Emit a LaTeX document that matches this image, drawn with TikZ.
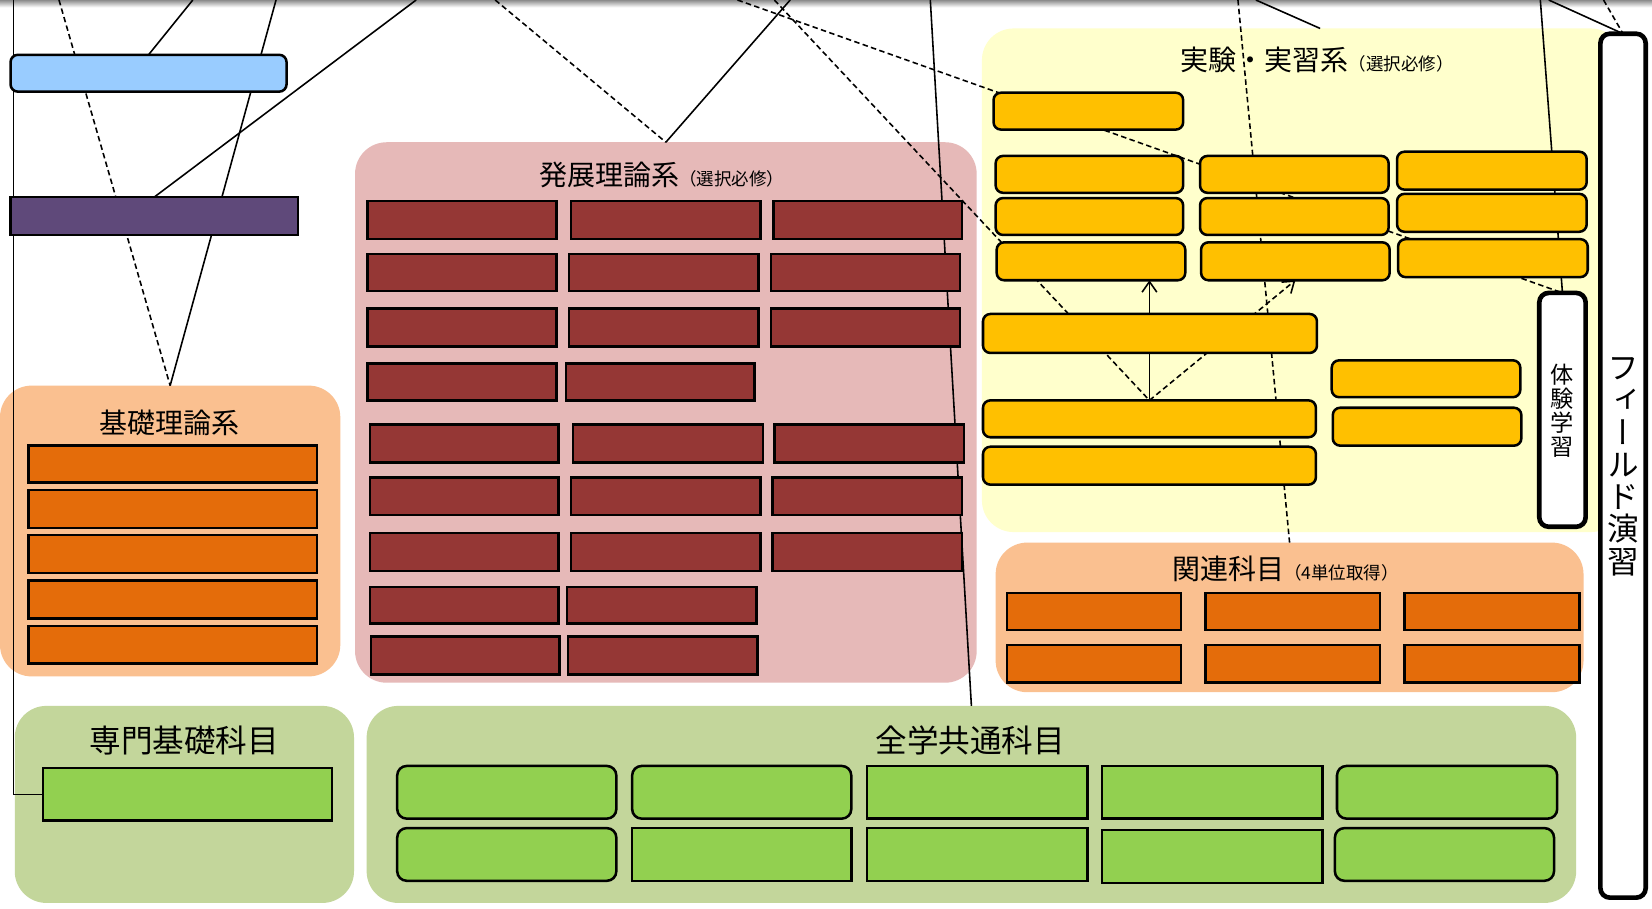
\documentclass[tikz,border=0pt]{standalone}
\usepackage{fontspec}
\setmainfont{Noto Sans CJK JP}
\newfontfamily\vjp[RawFeature=+vert]{Noto Sans CJK JP}
\usetikzlibrary{calc,arrows.meta}
\pgfdeclarelayer{bg}
\pgfdeclarelayer{ln}
\pgfsetlayers{bg,ln,main}
\definecolor{cblue}{HTML}{99CCFF}
\definecolor{cpurp}{HTML}{5F497A}
\definecolor{corgp}{HTML}{FAC090}
\definecolor{corgb}{HTML}{E46C0A}
\definecolor{cpink}{HTML}{E6B9B8}
\definecolor{cred}{HTML}{953735}
\definecolor{cyelp}{HTML}{FFFFCC}
\definecolor{cyelb}{HTML}{FFC000}
\definecolor{cgrnp}{HTML}{C3D69B}
\definecolor{cgrnb}{HTML}{92D050}
\newcommand\bx[6]{\node[#2,minimum width={(#5-(#3))*0.5pt},minimum height={(#6-(#4))*0.5pt}] (#1) at ({(#3+#5)/2},{(#4+#6)/2}) {};}
\tikzset{
  panel/.style={fill=#1,draw=none,rounded corners=15pt,inner sep=0pt,outer sep=0pt},
  sbox/.style={draw=black,line width=1.2pt,fill=#1,inner sep=0pt,outer sep=0pt},
  rbox/.style={sbox=#1,rounded corners=3.5pt},
  wbox/.style={draw=black,line width=2.2pt,fill=white,rounded corners=4.5pt,inner sep=0pt,outer sep=0pt},
  con/.style={draw=black,line width=0.75pt},
  dcon/.style={con,dash pattern=on 2.6pt off 1.6pt},
  tip/.style={-{Straight Barb[length=5pt,width=7pt,line width=0.75pt]}},
  ttl/.style={inner sep=0pt,font=\fontsize{13.3}{15}\selectfont},
}
\newcommand\sm[1]{{\fontsize{8.3}{9}\selectfont #1}}
\begin{document}
\begin{tikzpicture}[x=0.5pt,y=-0.5pt]
\useasboundingbox (0,0) rectangle (1568,862);
\begin{pgfonlayer}{bg}
\fill[white] (0,0) rectangle (1568,862);
\shade[top color=black!45,bottom color=white] (0,0) rectangle (1568,7);
\bx{kiso}{panel=corgp}{0}{366}{323}{642}
\bx{hatten}{panel=cpink}{337}{135}{927}{648}
\bx{jikken}{panel=cyelp}{932}{27}{1540}{505}
\bx{kanren}{panel=corgp}{945}{515}{1503}{657}
\bx{senmon}{panel=cgrnp}{14}{670}{336}{857}
\bx{zengaku}{panel=cgrnp}{348}{670}{1496}{857}
\end{pgfonlayer}
% titles
\node[ttl] (tkiso) at (161,401) {基礎理論系};
\node[ttl,anchor=base] (thatten) at (628,176) {発展理論系\sm{（選択必修）}};
\node[ttl,anchor=base] (tjikken) at (1250,67) {実験・実習系\sm{（選択必修）}};
\node[ttl,anchor=base] (tkanren) at (1220,550) {関連科目\sm{（4単位取得）}};
\node[ttl,font=\fontsize{15}{17}\selectfont] (tsenmon) at (175,703) {専門基礎科目};
\node[ttl,font=\fontsize{15}{17}\selectfont] (tzengaku) at (921,703) {全学共通科目};
% left boxes
\bx{blue}{rbox=cblue}{10}{52}{272}{87}
\bx{purple}{sbox=cpurp}{10}{187}{283}{223}
\bx{k1}{sbox=corgb}{27}{423}{301}{458}
\bx{k2}{sbox=corgb}{27}{465}{301}{501}
\bx{k3}{sbox=corgb}{27}{508}{301}{544}
\bx{k4}{sbox=corgb}{27}{551}{301}{587}
\bx{k5}{sbox=corgb}{27}{594}{301}{630}
\bx{sg}{sbox=cgrnb}{41}{729}{315}{779}
% hatten boxes
\bx{r1a}{sbox=cred}{349}{191}{528}{227}
\bx{r1b}{sbox=cred}{542}{191}{722}{227}
\bx{r1c}{sbox=cred}{734}{191}{913}{227}
\bx{r2a}{sbox=cred}{349}{241}{528}{276}
\bx{r2b}{sbox=cred}{540}{241}{720}{276}
\bx{r2c}{sbox=cred}{732}{241}{911}{276}
\bx{r3a}{sbox=cred}{349}{293}{528}{329}
\bx{r3b}{sbox=cred}{540}{293}{720}{329}
\bx{r3c}{sbox=cred}{732}{293}{911}{329}
\bx{r4a}{sbox=cred}{349}{345}{528}{380}
\bx{r4b}{sbox=cred}{537}{345}{716}{380}
\bx{r5a}{sbox=cred}{351}{403}{530}{439}
\bx{r5b}{sbox=cred}{544}{403}{724}{439}
\bx{r5c}{sbox=cred}{735}{403}{915}{439}
\bx{r6a}{sbox=cred}{351}{453}{530}{489}
\bx{r6b}{sbox=cred}{542}{453}{722}{489}
\bx{r6c}{sbox=cred}{733}{453}{913}{489}
\bx{r7a}{sbox=cred}{351}{506}{530}{542}
\bx{r7b}{sbox=cred}{542}{506}{722}{542}
\bx{r7c}{sbox=cred}{733}{506}{913}{542}
\bx{r8a}{sbox=cred}{351}{557}{530}{592}
\bx{r8b}{sbox=cred}{538}{557}{718}{592}
\bx{r9a}{sbox=cred}{352}{604}{531}{640}
\bx{r9b}{sbox=cred}{539}{604}{719}{640}
% jikken boxes
\bx{y0}{rbox=cyelb}{943}{88}{1123}{123}
\bx{c1r1}{rbox=cyelb}{945}{148}{1123}{183}
\bx{c1r2}{rbox=cyelb}{945}{188}{1123}{223}
\bx{c1r3}{rbox=cyelb}{946}{230}{1125}{266}
\bx{c2r1}{rbox=cyelb}{1139}{148}{1318}{183}
\bx{c2r2}{rbox=cyelb}{1139}{188}{1318}{223}
\bx{c2r3}{rbox=cyelb}{1140}{230}{1319}{266}
\bx{c3r1}{rbox=cyelb}{1326}{144}{1506}{180}
\bx{c3r2}{rbox=cyelb}{1326}{184}{1506}{220}
\bx{c3r3}{rbox=cyelb}{1327}{227}{1507}{263}
\bx{big1}{rbox=cyelb}{933}{298}{1250}{335}
\bx{big2}{rbox=cyelb}{933}{380}{1249}{415}
\bx{big3}{rbox=cyelb}{933}{424}{1249}{460}
\bx{sm1}{rbox=cyelb}{1264}{342}{1443}{377}
\bx{sm2}{rbox=cyelb}{1265}{387}{1444}{423}
\bx{taiken}{wbox}{1461}{278}{1505}{500}
\node[inner sep=0pt,align=center,font=\vjp\fontsize{11}{11.4}\selectfont] (ttaiken) at (1483,390) {体\\験\\学\\習};
\bx{field}{wbox}{1519}{32}{1562}{852}
\node[inner sep=0pt,align=center,font=\vjp\fontsize{15}{15.3}\selectfont] (tfield) at (1541,443) {フ\\ィ\\ー\\ル\\ド\\演\\習};
% kanren boxes
\bx{o1a}{sbox=corgb}{956}{563}{1121}{598}
\bx{o1b}{sbox=corgb}{1144}{563}{1310}{598}
\bx{o1c}{sbox=corgb}{1333}{563}{1499}{598}
\bx{o2a}{sbox=corgb}{956}{612}{1121}{648}
\bx{o2b}{sbox=corgb}{1144}{612}{1310}{648}
\bx{o2c}{sbox=corgb}{1333}{612}{1499}{648}
% zengaku boxes
\bx{g1a}{sbox=cgrnb,rounded corners=4.5pt}{377}{727}{585}{777}
\bx{g1b}{sbox=cgrnb,rounded corners=4.5pt}{600}{727}{808}{777}
\bx{g1c}{sbox=cgrnb}{823}{727}{1032}{777}
\bx{g1d}{sbox=cgrnb}{1046}{727}{1255}{777}
\bx{g1e}{sbox=cgrnb,rounded corners=4.5pt}{1269}{727}{1478}{777}
\bx{g2a}{sbox=cgrnb,rounded corners=4.5pt}{377}{786}{585}{836}
\bx{g2b}{sbox=cgrnb}{600}{786}{808}{836}
\bx{g2c}{sbox=cgrnb}{823}{786}{1032}{836}
\bx{g2d}{sbox=cgrnb}{1046}{788}{1255}{838}
\bx{g2e}{sbox=cgrnb,rounded corners=4.5pt}{1267}{786}{1475}{836}
% connectors
\begin{pgfonlayer}{ln}
\coordinate (t0) at (13,0);
\coordinate (t1) at (56,0);
\coordinate (t2) at (262,0);
\coordinate (t3) at (183,0);
\coordinate (t4) at (395,0);
\coordinate (t5) at (470,0);
\coordinate (t6) at (750,0);
\coordinate (t7) at (700,0);
\coordinate (t8) at (735,0);
\coordinate (t9) at (883,0);
\coordinate (t10) at (1175,0);
\coordinate (t11) at (1192,0);
\coordinate (t12) at (1462,0);
\coordinate (t13) at (1470,0);
\coordinate (t14) at (1522,0);
\coordinate (jt) at ($(jikken.north)+(17,0)$);
\draw[con] (t0) |- (sg.west);
\draw[dcon] (t1) -- (kiso.north);
\draw[con] (t2) -- (kiso.north);
\draw[con] (t3) -- (blue.north);
\draw[con] (t4) -- (purple.north);
\draw[dcon] (t5) -- (hatten.north);
\draw[con] (t6) -- (hatten.north);
\draw[dcon] (t7) -- (taiken.north);
\draw[dcon] (t8) -- (big2.north);
\draw[con] (t9) -- (zengaku.north);
\draw[dcon] (t10) -- (kanren.north);
\draw[con] (t11) -- (jt);
\draw[con] (t12) -- (taiken.north);
\draw[con] (t13) -- (field.north);
\draw[dcon] (t14) -- (field.north);
\draw[con,tip] (big2.north) -- (big2.north |- c1r3.south);
\draw[dcon,tip] (big2.north) -- (c2r3.south);
\end{pgfonlayer}
\end{tikzpicture}
\end{document}
